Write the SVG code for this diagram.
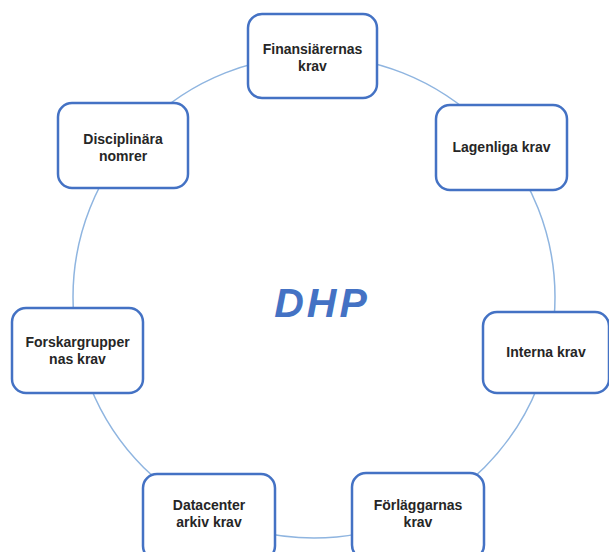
<svg xmlns="http://www.w3.org/2000/svg" width="609" height="552" viewBox="0 0 609 552">
<style>
.box{fill:#fff;stroke:#4472c4;stroke-width:2.5}
.t{font-family:"Liberation Sans",Arial,sans-serif;font-weight:bold;font-size:14px;fill:#262626;text-anchor:middle}
.ring{fill:none;stroke:#8fb5e0;stroke-width:1.5}
</style>
<rect width="609" height="552" fill="#fff"/>
<g id="connectors">
<circle class="ring" cx="314" cy="297" r="241"/>
</g>
<text x="322" y="317" font-family="Liberation Sans,Arial,sans-serif" font-weight="bold" font-style="italic" font-size="41" letter-spacing="3" fill="#4472c4" text-anchor="middle">DHP</text>
<g id="n1"><rect class="box" x="248" y="14" width="129" height="84" rx="14"/><text class="t" x="312.5" y="54">Finansiärernas</text><text class="t" x="312.5" y="71">krav</text></g>
<g id="n2"><rect class="box" x="436" y="105" width="131" height="85" rx="14"/><text class="t" x="501.5" y="152">Lagenliga krav</text></g>
<g id="n3"><rect class="box" x="483" y="312" width="126" height="81" rx="14"/><text class="t" x="546" y="357">Interna krav</text></g>
<g id="n4"><rect class="box" x="352" y="473" width="132" height="86" rx="14"/><text class="t" x="418" y="510">Förläggarnas</text><text class="t" x="418" y="527">krav</text></g>
<g id="n5"><rect class="box" x="143" y="474" width="132" height="86" rx="14"/><text class="t" x="209" y="510">Datacenter</text><text class="t" x="209" y="527">arkiv krav</text></g>
<g id="n6"><rect class="box" x="12" y="308" width="131" height="85" rx="14"/><text class="t" x="77.5" y="347">Forskargrupper</text><text class="t" x="77.5" y="364">nas krav</text></g>
<g id="n7"><rect class="box" x="58" y="103" width="130" height="85" rx="14"/><text class="t" x="123" y="143.5">Disciplinära</text><text class="t" x="123" y="160.5">nomrer</text></g>
</svg>
